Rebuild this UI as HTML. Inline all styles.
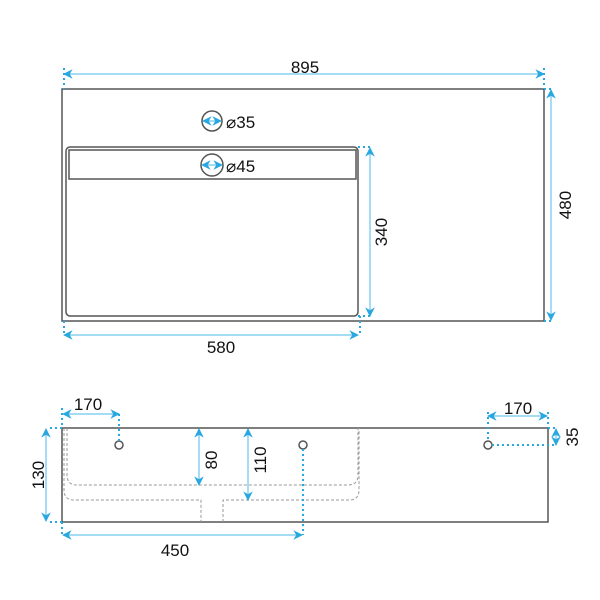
<!DOCTYPE html>
<html><head><meta charset="utf-8"><style>
html,body{margin:0;padding:0;background:#fff;}
svg{display:block;}
text{font-family:"Liberation Sans",sans-serif;font-size:17px;fill:#111;}
</style></head><body>
<svg width="600" height="600" viewBox="0 0 600 600" xmlns="http://www.w3.org/2000/svg">
<defs>
<marker id="a" viewBox="0 0 10 10" refX="9" refY="5" markerWidth="8" markerHeight="8" orient="auto-start-reverse"><path d="M0,0 L10,5 L0,10 L3,5 Z" fill="#29a8e0"/></marker>
</defs>
<g fill="none" stroke="#555" stroke-width="1.5">
<rect x="62" y="89" width="482" height="232"/>
<rect x="66" y="147" width="292" height="169" rx="4"/>
<rect x="69" y="150" width="287" height="29"/>
<circle cx="212" cy="121" r="10"/>
<circle cx="212" cy="165" r="11"/>
<rect x="62" y="428" width="486" height="94"/>
<circle cx="119" cy="445" r="4"/>
<circle cx="303" cy="445" r="4"/>
<circle cx="488" cy="445" r="4"/>
</g>
<g fill="none" stroke="#999" stroke-width="1" stroke-dasharray="3,2">
<path d="M67,428 V475 Q67,485 77,485 H348 Q358,485 358,475 V428"/>
<path d="M64,428 V490 Q64,500 74,500 H201 V522 M223,522 V500 H349 Q359,500 359,490 V428"/>
</g>
<g stroke="#6cc6ec" stroke-width="1.2" fill="none">
<line x1="64" y1="74" x2="544" y2="74" marker-start="url(#a)" marker-end="url(#a)"/>
<line x1="551" y1="90" x2="551" y2="320" marker-start="url(#a)" marker-end="url(#a)"/>
<line x1="370" y1="148" x2="370" y2="316" marker-start="url(#a)" marker-end="url(#a)"/>
<line x1="64" y1="335" x2="358" y2="335" marker-start="url(#a)" marker-end="url(#a)"/>
<line x1="203" y1="121" x2="221" y2="121" marker-start="url(#a)" marker-end="url(#a)"/>
<line x1="202" y1="165" x2="222" y2="165" marker-start="url(#a)" marker-end="url(#a)"/>
<line x1="63" y1="414" x2="119" y2="414" marker-start="url(#a)" marker-end="url(#a)"/>
<line x1="46" y1="429" x2="46" y2="521" marker-start="url(#a)" marker-end="url(#a)"/>
<line x1="199" y1="429" x2="199" y2="485" marker-start="url(#a)" marker-end="url(#a)"/>
<line x1="248" y1="429" x2="248" y2="500" marker-start="url(#a)" marker-end="url(#a)"/>
<line x1="63" y1="535" x2="302" y2="535" marker-start="url(#a)" marker-end="url(#a)"/>
<line x1="488" y1="416" x2="547" y2="416" marker-start="url(#a)" marker-end="url(#a)"/>
<line x1="556" y1="429" x2="556" y2="445" marker-start="url(#a)" marker-end="url(#a)"/>
</g>
<g stroke="#29a8e0" stroke-width="2" stroke-dasharray="2,3" fill="none">
<path d="M64,68 V89 M544,68 V89 M544,89 H551 M544,321 H551 M358,147 H370 M358,316 H370 M64,321 V335 M360,316 V335"/>
<path d="M62,408 V428 M119,414 V441 M50,428 H62 M50,522 H62 M62,522 V535 M303,449 V535 M488,412 V441 M548,412 V428 M548,428 H556 M492,445 H556"/>
</g>
<text x="305" y="73" text-anchor="middle">895</text>
<text x="226" y="128">⌀35</text>
<text x="226" y="172">⌀45</text>
<text x="221" y="353" text-anchor="middle">580</text>
<text transform="translate(387,232) rotate(-90)" text-anchor="middle">340</text>
<text transform="translate(571,205) rotate(-90)" text-anchor="middle">480</text>
<text x="88" y="410" text-anchor="middle">170</text>
<text x="518" y="414" text-anchor="middle">170</text>
<text transform="translate(44,475) rotate(-90)" text-anchor="middle">130</text>
<text transform="translate(217,460) rotate(-90)" text-anchor="middle">80</text>
<text transform="translate(266,460) rotate(-90)" text-anchor="middle">110</text>
<text transform="translate(578,437) rotate(-90)" text-anchor="middle">35</text>
<text x="175" y="556" text-anchor="middle">450</text>
</svg>
</body></html>
